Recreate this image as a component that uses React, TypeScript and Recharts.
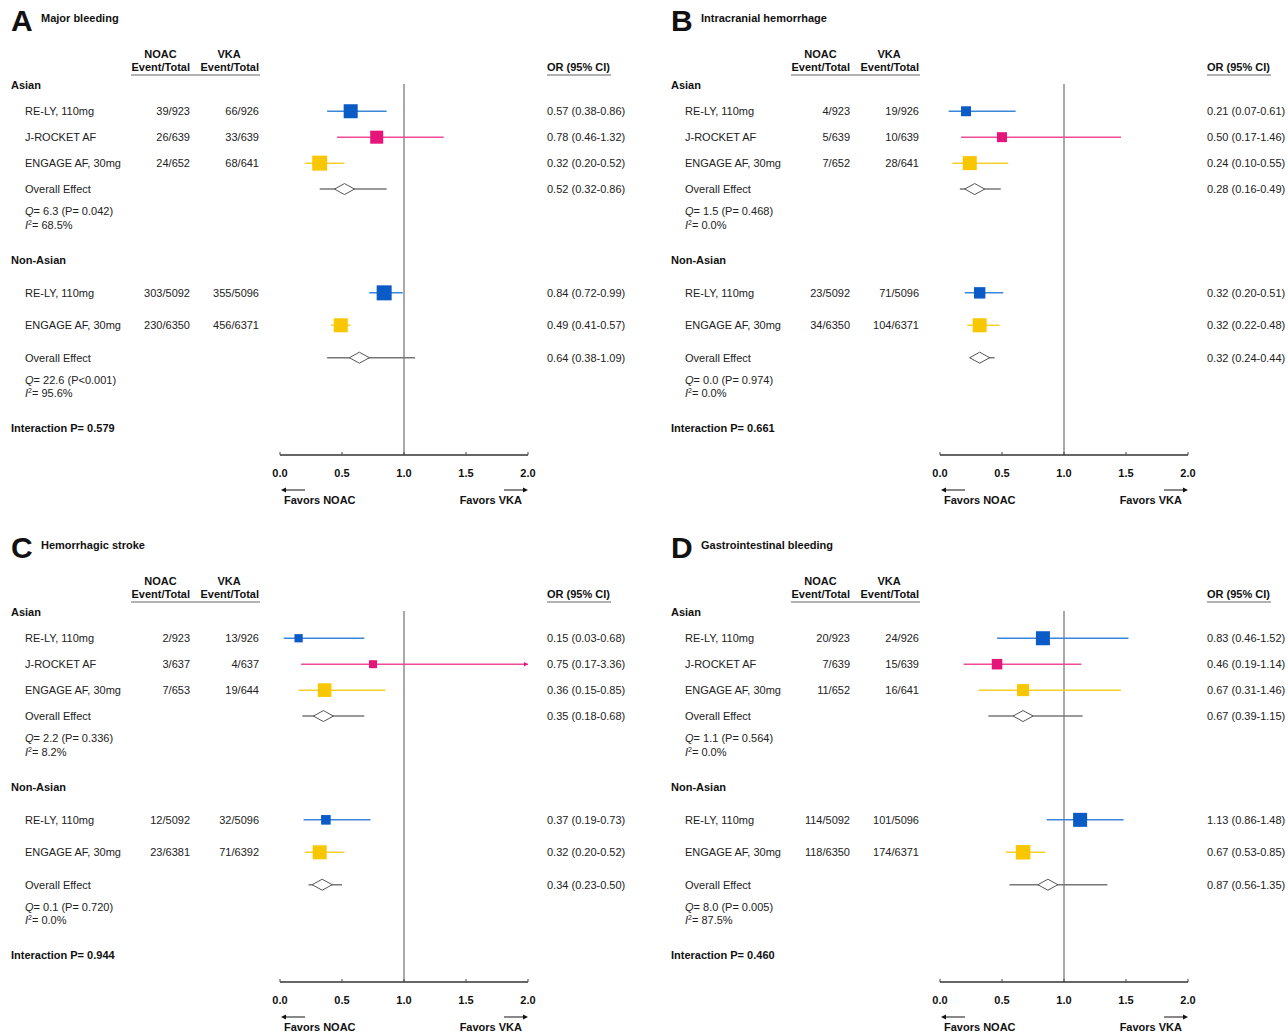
import React from "react";
import { ErrorBar, ReferenceLine, Scatter, ScatterChart, XAxis, YAxis } from "recharts";

type Trial = {
  trial: string;
  noac: string;
  vka: string;
  or: number;
  lo: number;
  hi: number;
  weight: number; // relative study weight
};

type Pooled = { or: number; lo: number; hi: number; q: string; p: string; i2: string };

// ---- data ----
const trialNames = ["RE-LY, 110mg", "J-ROCKET AF", "ENGAGE AF, 30mg"];
const xTicks = [0, 0.5, 1, 1.5, 2];

const majorBleedingAsian: Trial[] = [
  { trial: "RE-LY, 110mg", noac: "39/923", vka: "66/926", or: 0.57, lo: 0.38, hi: 0.86, weight: 0.89 },
  { trial: "J-ROCKET AF", noac: "26/639", vka: "33/639", or: 0.78, lo: 0.46, hi: 1.32, weight: 0.78 },
  { trial: "ENGAGE AF, 30mg", noac: "24/652", vka: "68/641", or: 0.32, lo: 0.2, hi: 0.52, weight: 1.0 },
];
const majorBleedingNonAsian: Trial[] = [
  { trial: "RE-LY, 110mg", noac: "303/5092", vka: "355/5096", or: 0.84, lo: 0.72, hi: 0.99, weight: 1.0 },
  { trial: "ENGAGE AF, 30mg", noac: "230/6350", vka: "456/6371", or: 0.49, lo: 0.41, hi: 0.57, weight: 0.89 },
];
const majorBleedingPooled: Pooled[] = [
  { or: 0.52, lo: 0.32, hi: 0.86, q: "6.3", p: "0.042", i2: "68.5%" },
  { or: 0.64, lo: 0.38, hi: 1.09, q: "22.6", p: "<0.001", i2: "95.6%" },
];

const ichAsian: Trial[] = [
  { trial: "RE-LY, 110mg", noac: "4/923", vka: "19/926", or: 0.21, lo: 0.07, hi: 0.61, weight: 0.44 },
  { trial: "J-ROCKET AF", noac: "5/639", vka: "10/639", or: 0.5, lo: 0.17, hi: 1.46, weight: 0.44 },
  { trial: "ENGAGE AF, 30mg", noac: "7/652", vka: "28/641", or: 0.24, lo: 0.1, hi: 0.55, weight: 0.89 },
];
const ichNonAsian: Trial[] = [
  { trial: "RE-LY, 110mg", noac: "23/5092", vka: "71/5096", or: 0.32, lo: 0.2, hi: 0.51, weight: 0.6 },
  { trial: "ENGAGE AF, 30mg", noac: "34/6350", vka: "104/6371", or: 0.32, lo: 0.22, hi: 0.48, weight: 0.89 },
];
const ichPooled: Pooled[] = [
  { or: 0.28, lo: 0.16, hi: 0.49, q: "1.5", p: "0.468", i2: "0.0%" },
  { or: 0.32, lo: 0.24, hi: 0.44, q: "0.0", p: "0.974", i2: "0.0%" },
];

const strokeAsian: Trial[] = [
  { trial: "RE-LY, 110mg", noac: "2/923", vka: "13/926", or: 0.15, lo: 0.03, hi: 0.68, weight: 0.25 },
  { trial: "J-ROCKET AF", noac: "3/637", vka: "4/637", or: 0.75, lo: 0.17, hi: 3.36, weight: 0.22 },
  { trial: "ENGAGE AF, 30mg", noac: "7/653", vka: "19/644", or: 0.36, lo: 0.15, hi: 0.85, weight: 0.85 },
];
const strokeNonAsian: Trial[] = [
  { trial: "RE-LY, 110mg", noac: "12/5092", vka: "32/5096", or: 0.37, lo: 0.19, hi: 0.73, weight: 0.4 },
  { trial: "ENGAGE AF, 30mg", noac: "23/6381", vka: "71/6392", or: 0.32, lo: 0.2, hi: 0.52, weight: 0.89 },
];
const strokePooled: Pooled[] = [
  { or: 0.35, lo: 0.18, hi: 0.68, q: "2.2", p: "0.336", i2: "8.2%" },
  { or: 0.34, lo: 0.23, hi: 0.5, q: "0.1", p: "0.720", i2: "0.0%" },
];

const giAsian: Trial[] = [
  { trial: "RE-LY, 110mg", noac: "20/923", vka: "24/926", or: 0.83, lo: 0.46, hi: 1.52, weight: 0.89 },
  { trial: "J-ROCKET AF", noac: "7/639", vka: "15/639", or: 0.46, lo: 0.19, hi: 1.14, weight: 0.5 },
  { trial: "ENGAGE AF, 30mg", noac: "11/652", vka: "16/641", or: 0.67, lo: 0.31, hi: 1.46, weight: 0.67 },
];
const giNonAsian: Trial[] = [
  { trial: "RE-LY, 110mg", noac: "114/5092", vka: "101/5096", or: 1.13, lo: 0.86, hi: 1.48, weight: 0.89 },
  { trial: "ENGAGE AF, 30mg", noac: "118/6350", vka: "174/6371", or: 0.67, lo: 0.53, hi: 0.85, weight: 0.95 },
];
const giPooled: Pooled[] = [
  { or: 0.67, lo: 0.39, hi: 1.15, q: "1.1", p: "0.564", i2: "0.0%" },
  { or: 0.87, lo: 0.56, hi: 1.35, q: "8.0", p: "0.005", i2: "87.5%" },
];

const panels = [
  { letter: "A", title: "Major bleeding", asian: majorBleedingAsian, nonAsian: majorBleedingNonAsian, pooled: majorBleedingPooled, interactionP: "0.579" },
  { letter: "B", title: "Intracranial hemorrhage", asian: ichAsian, nonAsian: ichNonAsian, pooled: ichPooled, interactionP: "0.661" },
  { letter: "C", title: "Hemorrhagic stroke", asian: strokeAsian, nonAsian: strokeNonAsian, pooled: strokePooled, interactionP: "0.944" },
  { letter: "D", title: "Gastrointestinal bleeding", asian: giAsian, nonAsian: giNonAsian, pooled: giPooled, interactionP: "0.460" },
];
type Panel = (typeof panels)[number];

// ---- layout / style ----
const FONT = '"Liberation Sans", Arial, Helvetica, sans-serif';
const PANEL_W = 628;
const PANEL_H = 506;
const PANEL_SLOTS = [
  { left: 0, top: 0 },
  { left: 660, top: 0 },
  { left: 0, top: 527 },
  { left: 660, top: 527 },
];
const X_MAX = 2;
const Y_DOMAIN: [number, number] = [-0.05, 14.25];

const ROW_ASIAN = 0;
const ROW_ASIAN_TRIALS = [1, 2, 3];
const ROW_ASIAN_POOLED = 4;
const ROW_ASIAN_Q = 4.85;
const ROW_ASIAN_I2 = 5.4;
const ROW_NONASIAN = 6.75;
const ROW_NONASIAN_TRIALS = [8, 9.25];
const ROW_NONASIAN_POOLED = 10.5;
const ROW_NONASIAN_Q = 11.35;
const ROW_NONASIAN_I2 = 11.88;
const ROW_INTERACTION = 13.2;

const TRIAL_FILL: Record<string, string> = {
  "RE-LY, 110mg": "#0a5bc6",
  "J-ROCKET AF": "#e6157a",
  "ENGAGE AF, 30mg": "#f9c700",
};
const TRIAL_LINE: Record<string, string> = {
  "RE-LY, 110mg": "#3a86d8",
  "J-ROCKET AF": "#f04a9a",
  "ENGAGE AF, 30mg": "#f9cf2a",
};

const TEXT = "#222";
const markerSide = (w: number) => 6 + 9 * w;
const fmtCI = (d: { or: number; lo: number; hi: number }) =>
  `${d.or.toFixed(2)} (${d.lo.toFixed(2)}-${d.hi.toFixed(2)})`;
const fmtP = (p: string) => (p.startsWith("<") ? `P${p}` : `P= ${p}`);

type LabelRow = {
  row: number;
  kind: "group" | "trial" | "pooled" | "q" | "i2";
  text?: string;
  trial?: Trial;
  pooled?: Pooled;
};

function buildRows(panel: Panel): LabelRow[] {
  const rows: LabelRow[] = [{ row: ROW_ASIAN, kind: "group", text: "Asian" }];
  panel.asian.forEach((t, i) => rows.push({ row: ROW_ASIAN_TRIALS[i], kind: "trial", trial: t }));
  rows.push({ row: ROW_ASIAN_POOLED, kind: "pooled", pooled: panel.pooled[0] });
  rows.push({ row: ROW_ASIAN_Q, kind: "q", pooled: panel.pooled[0] });
  rows.push({ row: ROW_ASIAN_I2, kind: "i2", pooled: panel.pooled[0] });
  rows.push({ row: ROW_NONASIAN, kind: "group", text: "Non-Asian" });
  panel.nonAsian.forEach((t, i) => rows.push({ row: ROW_NONASIAN_TRIALS[i], kind: "trial", trial: t }));
  rows.push({ row: ROW_NONASIAN_POOLED, kind: "pooled", pooled: panel.pooled[1] });
  rows.push({ row: ROW_NONASIAN_Q, kind: "q", pooled: panel.pooled[1] });
  rows.push({ row: ROW_NONASIAN_I2, kind: "i2", pooled: panel.pooled[1] });
  rows.push({ row: ROW_INTERACTION, kind: "group", text: `Interaction P= ${panel.interactionP}` });
  return rows;
}

function RowTick({ y, payload, rows }: any) {
  const r: LabelRow | undefined = rows.find((d: LabelRow) => Math.abs(d.row - payload.value) < 1e-6);
  if (!r) return null;
  const base = { y, dy: "0.35em", fontSize: 11, fill: TEXT };
  if (r.kind === "group") {
    return (
      <text {...base} x={11} fontWeight="bold" fill="#111">
        {r.text}
      </text>
    );
  }
  if (r.kind === "trial" && r.trial) {
    return (
      <g>
        <text {...base} x={25}>{r.trial.trial}</text>
        <text {...base} x={190} textAnchor="end">{r.trial.noac}</text>
        <text {...base} x={259} textAnchor="end">{r.trial.vka}</text>
        <text {...base} x={547}>{fmtCI(r.trial)}</text>
      </g>
    );
  }
  if (r.kind === "pooled" && r.pooled) {
    return (
      <g>
        <text {...base} x={25}>Overall Effect</text>
        <text {...base} x={547}>{fmtCI(r.pooled)}</text>
      </g>
    );
  }
  if (r.kind === "q" && r.pooled) {
    return (
      <text {...base} x={25}>
        <tspan fontStyle="italic">Q</tspan>
        {`= ${r.pooled.q} (${fmtP(r.pooled.p)})`}
      </text>
    );
  }
  if (r.kind === "i2" && r.pooled) {
    return (
      <text {...base} x={25}>
        <tspan fontStyle="italic">I</tspan>
        <tspan fontSize={7} dy={-4}>2</tspan>
        <tspan dy={4}>{`= ${r.pooled.i2}`}</tspan>
      </text>
    );
  }
  return null;
}

function XTick({ x, y, payload }: any) {
  const v = payload.value as number;
  return (
    <g>
      <line x1={x} x2={x} y1={y} y2={y - 3} stroke="#444" strokeWidth={1} />
      <text x={x} y={y + 22} textAnchor="middle" fontSize={11} fontWeight="bold" fill="#111">
        {v.toFixed(1)}
      </text>
      {v === 0 && (
        <g>
          <line x1={x + 4} x2={x + 25} y1={y + 35} y2={y + 35} stroke="#888" strokeWidth={2} />
          <path d={`M${x + 1},${y + 35} L${x + 6},${y + 32.5} L${x + 6},${y + 37.5} Z`} fill="#111" />
          <text x={x + 4} y={y + 49} fontSize={11} fontWeight="bold" fill="#111">
            Favors NOAC
          </text>
        </g>
      )}
      {v === X_MAX && (
        <g>
          <line x1={x - 24} x2={x - 4} y1={y + 35} y2={y + 35} stroke="#888" strokeWidth={2} />
          <path d={`M${x},${y + 35} L${x - 5},${y + 32.5} L${x - 5},${y + 37.5} Z`} fill="#111" />
          <text x={x - 6} y={y + 49} textAnchor="end" fontSize={11} fontWeight="bold" fill="#111">
            Favors VKA
          </text>
        </g>
      )}
    </g>
  );
}

function toPoint(d: { or: number; lo: number; hi: number }, row: number, extra: object = {}) {
  return { ...d, ...extra, row, err: [d.or - d.lo, Math.min(d.hi, X_MAX) - d.or] };
}

function ForestPanel({ panel, left, top }: { panel: Panel; left: number; top: number }) {
  const rows = buildRows(panel);
  const ticks = rows.map((r) => r.row);

  const series = trialNames.map((name) => {
    const pts: any[] = [];
    panel.asian.forEach((t, i) => t.trial === name && pts.push(toPoint(t, ROW_ASIAN_TRIALS[i], t)));
    panel.nonAsian.forEach((t, i) => t.trial === name && pts.push(toPoint(t, ROW_NONASIAN_TRIALS[i], t)));
    return { name, pts };
  });
  const pooledPts = [toPoint(panel.pooled[0], ROW_ASIAN_POOLED), toPoint(panel.pooled[1], ROW_NONASIAN_POOLED)];
  const overflow = series.flatMap((s) =>
    s.pts.filter((p) => p.hi > X_MAX).map((p) => ({ or: X_MAX, row: p.row, name: s.name }))
  );

  return (
    <div style={{ position: "absolute", left, top, width: PANEL_W, height: PANEL_H }}>
      <ScatterChart width={PANEL_W} height={PANEL_H} margin={{ top: 84, right: 100, bottom: 0, left: 0 }}>
        <XAxis
          type="number"
          dataKey="or"
          domain={[0, X_MAX]}
          ticks={xTicks}
          allowDataOverflow
          height={51}
          axisLine={{ stroke: "#333", strokeWidth: 1.5 }}
          tickLine={false}
          tickSize={0}
          tickMargin={0}
          tick={<XTick />}
        />
        <YAxis
          type="number"
          dataKey="row"
          domain={Y_DOMAIN}
          reversed
          ticks={ticks}
          interval={0}
          width={280}
          axisLine={false}
          tickLine={false}
          tickSize={0}
          tickMargin={0}
          tick={<RowTick rows={rows} />}
        />
        <ReferenceLine x={1} stroke="#8c8c8c" strokeWidth={1.5} />
        {series.map((s) => (
          <Scatter
            key={s.name}
            data={s.pts}
            isAnimationActive={false}
            shape={(p: any) => {
              const side = markerSide(p.payload.weight);
              return (
                <rect x={p.cx - side / 2} y={p.cy - side / 2} width={side} height={side} fill={TRIAL_FILL[s.name]} />
              );
            }}
          >
            <ErrorBar dataKey="err" direction="x" width={0} stroke={TRIAL_LINE[s.name]} strokeWidth={1.5} />
          </Scatter>
        ))}
        <Scatter
          data={pooledPts}
          isAnimationActive={false}
          shape={(p: any) => (
            <path
              d={`M${p.cx - 10},${p.cy} L${p.cx},${p.cy - 5.5} L${p.cx + 10},${p.cy} L${p.cx},${p.cy + 5.5} Z`}
              fill="#fff"
              stroke="#555"
              strokeWidth={1}
            />
          )}
        >
          <ErrorBar dataKey="err" direction="x" width={0} stroke="#777" strokeWidth={1.5} />
        </Scatter>
        {overflow.length > 0 && (
          <Scatter
            data={overflow}
            isAnimationActive={false}
            shape={(p: any) => (
              <path
                d={`M${p.cx},${p.cy} L${p.cx - 4},${p.cy - 2.2} L${p.cx - 4},${p.cy + 2.2} Z`}
                fill={TRIAL_FILL[p.payload.name]}
              />
            )}
          />
        )}
      </ScatterChart>
      <svg
        width={PANEL_W}
        height={80}
        style={{ position: "absolute", left: 0, top: 0, pointerEvents: "none", overflow: "visible" }}
      >
        <text x={11} y={31} fontSize={30} fontWeight="bold" fill="#111">
          {panel.letter}
        </text>
        <text x={41} y={22} fontSize={11} fontWeight="bold" fill="#111">
          {panel.title}
        </text>
        <g fontSize={11} fontWeight="bold" fill="#111">
          <text x={160.5} y={58} textAnchor="middle">NOAC</text>
          <text x={229} y={58} textAnchor="middle">VKA</text>
          <text x={190} y={71} textAnchor="end">Event/Total</text>
          <text x={259} y={71} textAnchor="end">Event/Total</text>
          <text x={547} y={71}>OR (95% CI)</text>
        </g>
        <line x1={131} x2={260} y1={75} y2={75} stroke="#999" strokeWidth={1.5} />
        <line x1={547} x2={611} y1={75} y2={75} stroke="#999" strokeWidth={1.5} />
      </svg>
    </div>
  );
}

export default function App() {
  return (
    <div
      style={{
        position: "absolute",
        left: 0,
        top: 0,
        width: 1288,
        height: 1033,
        overflow: "hidden",
        background: "#fff",
        fontFamily: FONT,
      }}
    >
      {panels.map((p, i) => (
        <ForestPanel key={p.letter} panel={p} left={PANEL_SLOTS[i].left} top={PANEL_SLOTS[i].top} />
      ))}
    </div>
  );
}
